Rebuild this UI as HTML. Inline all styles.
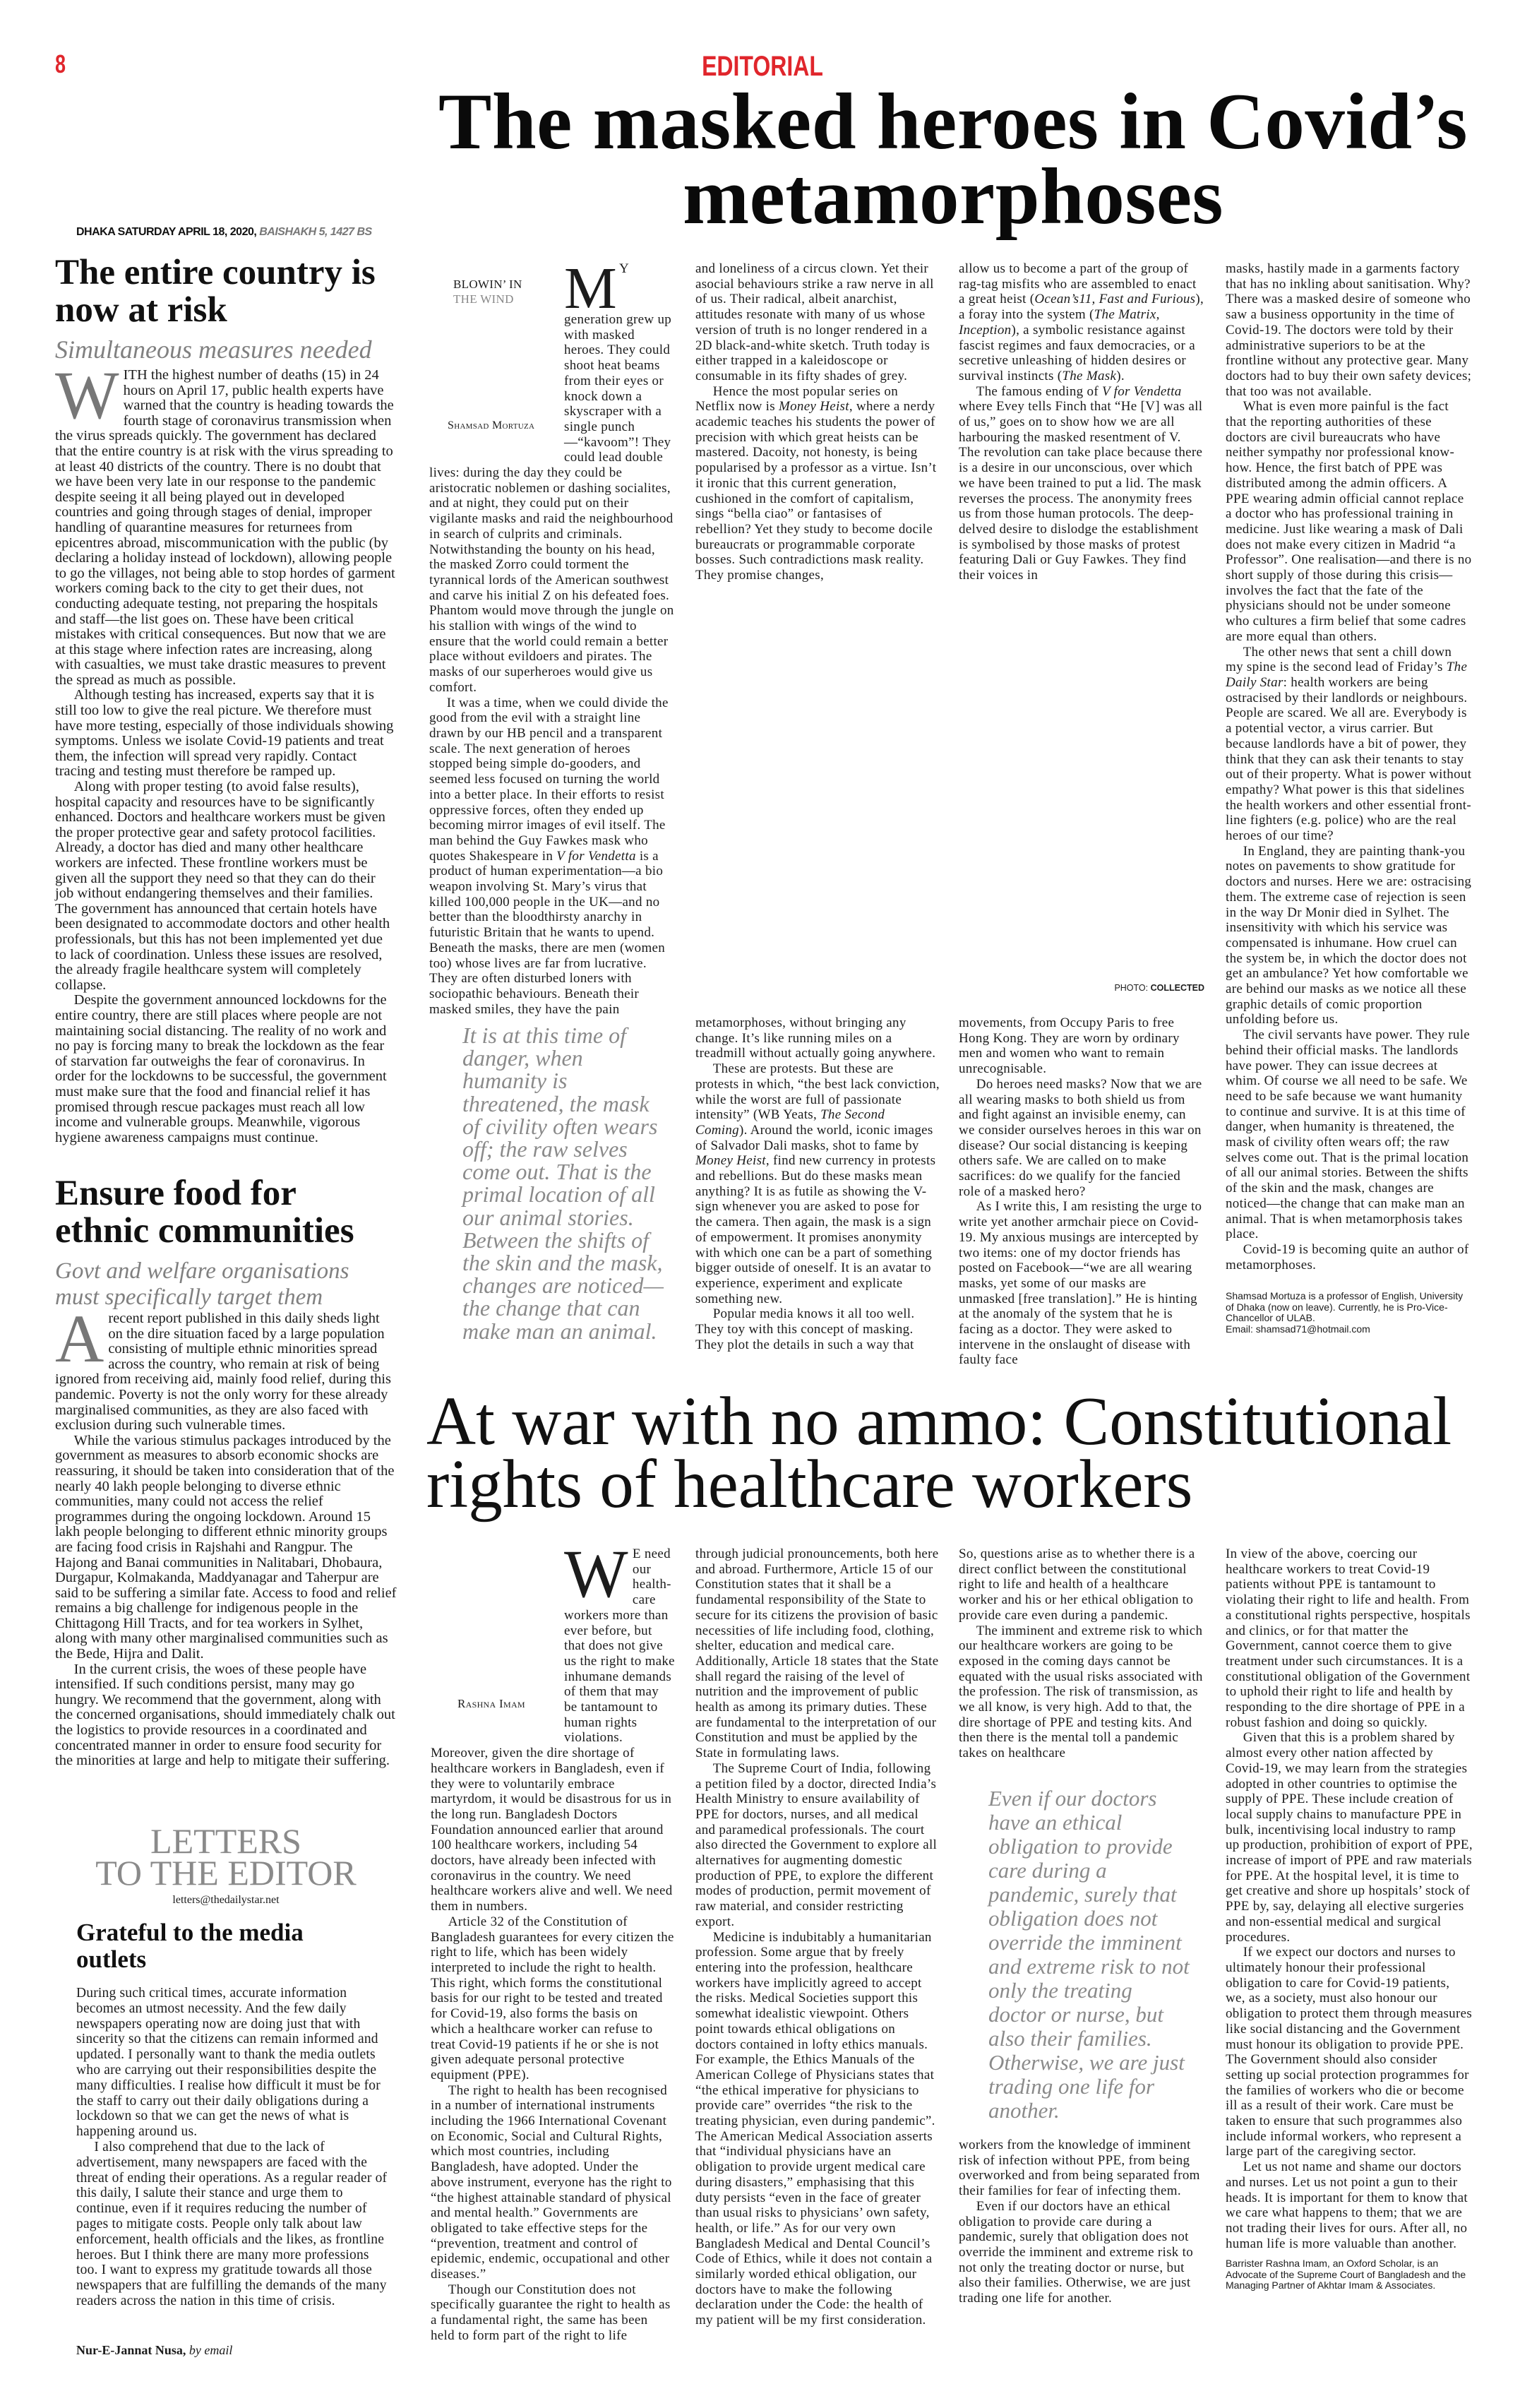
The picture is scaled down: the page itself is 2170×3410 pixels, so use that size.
<!DOCTYPE html>
<html><head><meta charset="utf-8">
<style>
html,body{margin:0;padding:0;background:#fff;}
body{width:2170px;height:3410px;position:relative;overflow:hidden;font-family:"Liberation Serif",serif;color:#1c1c1c;}
.a{position:absolute;}
.col{position:absolute;font-size:19px;line-height:21.7px;letter-spacing:.3px;}
.col p{margin:0;text-indent:1.3em;}
.col p.n{text-indent:0;}
.lc{position:absolute;left:78px;width:484px;font-size:20.5px;line-height:21.6px;}
.lc p{margin:0;text-indent:1.3em;}
.lc p.n{text-indent:0;}
.hl{font-weight:bold;font-size:51px;line-height:53px;color:#111;}
.sub{font-style:italic;color:#808080;font-size:36px;line-height:38px;}
.dc{float:left;font-size:96px;line-height:66px;margin:6px 6px 0 0;}
.pq{position:absolute;font-style:italic;color:#8a8a8a;font-size:32px;line-height:32.2px;}
.bio{font-family:"Liberation Sans",sans-serif;font-size:14px;line-height:15.5px;letter-spacing:0;}
.sc{font-variant:small-caps;}
</style></head><body>

<div class="a" style="left:78px;top:70px;font:bold 36px 'Liberation Sans',sans-serif;color:#e0262c;transform:scaleX(.75);transform-origin:left;">8</div>
<div class="a" style="left:880px;top:72px;width:400px;text-align:center;font:bold 40px 'Liberation Sans',sans-serif;color:#e0262c;transform:scaleX(.8);">EDITORIAL</div>

<div class="a" style="left:560px;top:120px;width:1580px;text-align:center;font-weight:bold;font-size:113px;line-height:106px;color:#0a0a0a;letter-spacing:.5px;">The masked heroes in Covid’s<br>metamorphoses</div>

<div class="a" style="left:108px;top:320px;font:bold 16px 'Liberation Sans',sans-serif;letter-spacing:-.5px;color:#111;">DHAKA SATURDAY APRIL 18, 2020, <i style="color:#777">BAISHAKH 5, 1427 BS</i></div>

<!-- LEFT COLUMN -->
<div class="a hl" style="left:78px;top:360px;width:520px;">The entire country is<br>now at risk</div>
<div class="a sub" style="left:78px;top:476px;">Simultaneous measures needed</div>
<div class="lc" style="top:521px;">
<p class="n"><span class="dc" style="color:#777;">W</span>ITH the highest number of deaths (15) in 24 hours on April 17, public health experts have warned that the country is heading towards the fourth stage of coronavirus transmission when the virus spreads quickly. The government has declared that the entire country is at risk with the virus spreading to at least 40 districts of the country. There is no doubt that we have been very late in our response to the pandemic despite seeing it all being played out in developed countries and going through stages of denial, improper handling of quarantine measures for returnees from epicentres abroad, miscommunication with the public (by declaring a holiday instead of lockdown), allowing people to go the villages, not being able to stop hordes of garment workers coming back to the city to get their dues, not conducting adequate testing, not preparing the hospitals and staff—the list goes on. These have been critical mistakes with critical consequences. But now that we are at this stage where infection rates are increasing, along with casualties, we must take drastic measures to prevent the spread as much as possible.</p>
<p>Although testing has increased, experts say that it is still too low to give the real picture. We therefore must have more testing, especially of those individuals showing symptoms. Unless we isolate Covid-19 patients and treat them, the infection will spread very rapidly. Contact tracing and testing must therefore be ramped up.</p>
<p>Along with proper testing (to avoid false results), hospital capacity and resources have to be significantly enhanced. Doctors and healthcare workers must be given the proper protective gear and safety protocol facilities. Already, a doctor has died and many other healthcare workers are infected. These frontline workers must be given all the support they need so that they can do their job without endangering themselves and their families. The government has announced that certain hotels have been designated to accommodate doctors and other health professionals, but this has not been implemented yet due to lack of coordination. Unless these issues are resolved, the already fragile healthcare system will completely collapse.</p>
<p>Despite the government announced lockdowns for the entire country, there are still places where people are not maintaining social distancing. The reality of no work and no pay is forcing many to break the lockdown as the fear of starvation far outweighs the fear of coronavirus. In order for the lockdowns to be successful, the government must make sure that the food and financial relief it has promised through rescue packages must reach all low income and vulnerable groups. Meanwhile, vigorous hygiene awareness campaigns must continue.</p>
</div>

<div class="a hl" style="left:78px;top:1664px;width:520px;">Ensure food for<br>ethnic communities</div>
<div class="a sub" style="left:78px;top:1782px;font-size:33px;line-height:37px;">Govt and welfare organisations<br>must specifically target them</div>
<div class="lc" style="top:1857px;">
<p class="n"><span class="dc" style="color:#777;">A</span> recent report published in this daily sheds light on the dire situation faced by a large population consisting of multiple ethnic minorities spread across the country, who remain at risk of being ignored from receiving aid, mainly food relief, during this pandemic. Poverty is not the only worry for these already marginalised communities, as they are also faced with exclusion during such vulnerable times.</p>
<p>While the various stimulus packages introduced by the government as measures to absorb economic shocks are reassuring, it should be taken into consideration that of the nearly 40 lakh people belonging to diverse ethnic communities, many could not access the relief programmes during the ongoing lockdown. Around 15 lakh people belonging to different ethnic minority groups are facing food crisis in Rajshahi and Rangpur. The Hajong and Banai communities in Nalitabari, Dhobaura, Durgapur, Kolmakanda, Maddyanagar and Taherpur are said to be suffering a similar fate. Access to food and relief remains a big challenge for indigenous people in the Chittagong Hill Tracts, and for tea workers in Sylhet, along with many other marginalised communities such as the Bede, Hijra and Dalit.</p>
<p>In the current crisis, the woes of these people have intensified. If such conditions persist, many may go hungry. We recommend that the government, along with the concerned organisations, should immediately chalk out the logistics to provide resources in a coordinated and concentrated manner in order to ensure food security for the minorities at large and help to mitigate their suffering.</p>
</div>

<div class="a" style="left:78px;top:2585px;width:484px;text-align:center;font-size:50px;line-height:45px;color:#8a8a8a;">LETTERS<br>TO THE EDITOR</div>
<div class="a" style="left:78px;top:2682px;width:484px;text-align:center;font-size:16px;">letters@thedailystar.net</div>
<div class="a" style="left:108px;top:2718px;font-weight:bold;font-size:35px;line-height:38px;color:#111;">Grateful to the media<br>outlets</div>
<div class="lc" style="top:2812px;left:108px;width:450px;font-size:19.5px;line-height:21.8px;letter-spacing:.2px;">
<p class="n">During such critical times, accurate information becomes an utmost necessity. And the few daily newspapers operating now are doing just that with sincerity so that the citizens can remain informed and updated. I personally want to thank the media outlets who are carrying out their responsibilities despite the many difficulties. I realise how difficult it must be for the staff to carry out their daily obligations during a lockdown so that we can get the news of what is happening around us.</p>
<p>I also comprehend that due to the lack of advertisement, many newspapers are faced with the threat of ending their operations. As a regular reader of this daily, I salute their stance and urge them to continue, even if it requires reducing the number of pages to mitigate costs. People only talk about law enforcement, health officials and the likes, as frontline heroes. But I think there are many more professions too. I want to express my gratitude towards all those newspapers that are fulfilling the demands of the many readers across the nation in this time of crisis.</p>
</div>
<div class="a" style="left:108px;top:3318px;font-size:18px;font-weight:bold;">Nur-E-Jannat Nusa, <i style="font-weight:normal">by email</i></div>

<!-- ARTICLE 1 -->
<div class="col" style="left:608px;top:370px;width:348px;">
<div style="float:left;width:191px;height:270px;position:relative;">
<div style="position:absolute;left:34px;top:22px;font-size:17px;line-height:21px;">BLOWIN’ IN<br><span style="color:#888">THE WIND</span></div>
<div class="sc" style="position:absolute;left:26px;top:222px;font-size:16px;">Shamsad Mortuza</div>
</div>
<p class="n"><span class="dc" style="font-size:84px;margin-right:3px;">M</span>Y generation grew up with masked heroes. They could shoot heat beams from their eyes or knock down a skyscraper with a single punch—“kavoom”! They could lead double lives: during the day they could be aristocratic noblemen or dashing socialites, and at night, they could put on their vigilante masks and raid the neighbourhood in search of culprits and criminals. Notwithstanding the bounty on his head, the masked Zorro could torment the tyrannical lords of the American southwest and carve his initial Z on his defeated foes. Phantom would move through the jungle on his stallion with wings of the wind to ensure that the world could remain a better place without evildoers and pirates. The masks of our superheroes would give us comfort.</p>
<p>It was a time, when we could divide the good from the evil with a straight line drawn by our HB pencil and a transparent scale. The next generation of heroes stopped being simple do-gooders, and seemed less focused on turning the world into a better place. In their efforts to resist oppressive forces, often they ended up becoming mirror images of evil itself. The man behind the Guy Fawkes mask who quotes Shakespeare in <i>V for Vendetta</i> is a product of human experimentation—a bio weapon involving St. Mary’s virus that killed 100,000 people in the UK—and no better than the bloodthirsty anarchy in futuristic Britain that he wants to upend. Beneath the masks, there are men (women too) whose lives are far from lucrative. They are often disturbed loners with sociopathic behaviours. Beneath their masked smiles, they have the pain</p>
</div>

<div class="col" style="left:985px;top:370px;width:346px;">
<p class="n">and loneliness of a circus clown. Yet their asocial behaviours strike a raw nerve in all of us. Their radical, albeit anarchist, attitudes resonate with many of us whose version of truth is no longer rendered in a 2D black-and-white sketch. Truth today is either trapped in a kaleidoscope or consumable in its fifty shades of grey.</p>
<p>Hence the most popular series on Netflix now is <i>Money Heist</i>, where a nerdy academic teaches his students the power of precision with which great heists can be mastered. Dacoity, not honesty, is being popularised by a professor as a virtue. Isn’t it ironic that this current generation, cushioned in the comfort of capitalism, sings “bella ciao” or fantasises of rebellion? Yet they study to become docile bureaucrats or programmable corporate bosses. Such contradictions mask reality. They promise changes,</p>
</div>

<div class="col" style="left:1358px;top:370px;width:348px;">
<p class="n">allow us to become a part of the group of rag-tag misfits who are assembled to enact a great heist (<i>Ocean’s11, Fast and Furious</i>), a foray into the system (<i>The Matrix, Inception</i>), a symbolic resistance against fascist regimes and faux democracies, or a secretive unleashing of hidden desires or survival instincts (<i>The Mask</i>).</p>
<p>The famous ending of <i>V for Vendetta</i> where Evey tells Finch that “He [V] was all of us,” goes on to show how we are all harbouring the masked resentment of V. The revolution can take place because there is a desire in our unconscious, over which we have been trained to put a lid. The mask reverses the process. The anonymity frees us from those human protocols. The deep-delved desire to dislodge the establishment is symbolised by those masks of protest featuring Dali or Guy Fawkes. They find their voices in</p>
</div>

<div class="a" style="left:1500px;top:1392px;width:206px;text-align:right;font:12.5px 'Liberation Sans',sans-serif;">PHOTO: <b>COLLECTED</b></div>

<div class="pq" style="left:655px;top:1450px;width:285px;">It is at this time of danger, when humanity is threatened, the mask of civility often wears off; the raw selves come out. That is the primal location of all our animal stories. Between the shifts of the skin and the mask, changes are noticed—the change that can make man an animal.</div>

<div class="col" style="left:985px;top:1438px;width:346px;">
<p class="n">metamorphoses, without bringing any change. It’s like running miles on a treadmill without actually going anywhere.</p>
<p>These are protests. But these are protests in which, “the best lack conviction, while the worst are full of passionate intensity” (WB Yeats, <i>The Second Coming</i>). Around the world, iconic images of Salvador Dali masks, shot to fame by <i>Money Heist</i>, find new currency in protests and rebellions. But do these masks mean anything? It is as futile as showing the V-sign whenever you are asked to pose for the camera. Then again, the mask is a sign of empowerment. It promises anonymity with which one can be a part of something bigger outside of oneself. It is an avatar to experience, experiment and explicate something new.</p>
<p>Popular media knows it all too well. They toy with this concept of masking. They plot the details in such a way that</p>
</div>

<div class="col" style="left:1358px;top:1438px;width:348px;">
<p class="n">movements, from Occupy Paris to free Hong Kong. They are worn by ordinary men and women who want to remain unrecognisable.</p>
<p>Do heroes need masks? Now that we are all wearing masks to both shield us from and fight against an invisible enemy, can we consider ourselves heroes in this war on disease? Our social distancing is keeping others safe. We are called on to make sacrifices: do we qualify for the fancied role of a masked hero?</p>
<p>As I write this, I am resisting the urge to write yet another armchair piece on Covid-19. My anxious musings are intercepted by two items: one of my doctor friends has posted on Facebook—“we are all wearing masks, yet some of our masks are unmasked [free translation].” He is hinting at the anomaly of the system that he is facing as a doctor. They were asked to intervene in the onslaught of disease with faulty face</p>
</div>

<div class="col" style="left:1736px;top:370px;width:350px;">
<p class="n">masks, hastily made in a garments factory that has no inkling about sanitisation. Why? There was a masked desire of someone who saw a business opportunity in the time of Covid-19. The doctors were told by their administrative superiors to be at the frontline without any protective gear. Many doctors had to buy their own safety devices; that too was not available.</p>
<p>What is even more painful is the fact that the reporting authorities of these doctors are civil bureaucrats who have neither sympathy nor professional know-how. Hence, the first batch of PPE was distributed among the admin officers. A PPE wearing admin official cannot replace a doctor who has professional training in medicine. Just like wearing a mask of Dali does not make every citizen in Madrid “a Professor”. One realisation—and there is no short supply of those during this crisis—involves the fact that the fate of the physicians should not be under someone who cultures a firm belief that some cadres are more equal than others.</p>
<p>The other news that sent a chill down my spine is the second lead of Friday’s <i>The Daily Star</i>: health workers are being ostracised by their landlords or neighbours. People are scared. We all are. Everybody is a potential vector, a virus carrier. But because landlords have a bit of power, they think that they can ask their tenants to stay out of their property. What is power without empathy? What power is this that sidelines the health workers and other essential front-line fighters (e.g. police) who are the real heroes of our time?</p>
<p>In England, they are painting thank-you notes on pavements to show gratitude for doctors and nurses. Here we are: ostracising them. The extreme case of rejection is seen in the way Dr Monir died in Sylhet. The insensitivity with which his service was compensated is inhumane. How cruel can the system be, in which the doctor does not get an ambulance? Yet how comfortable we are behind our masks as we notice all these graphic details of comic proportion unfolding before us.</p>
<p>The civil servants have power. They rule behind their official masks. The landlords have power. They can issue decrees at whim. Of course we all need to be safe. We need to be safe because we want humanity to continue and survive. It is at this time of danger, when humanity is threatened, the mask of civility often wears off; the raw selves come out. That is the primal location of all our animal stories. Between the shifts of the skin and the mask, changes are noticed—the change that can make man an animal. That is when metamorphosis takes place.</p>
<p>Covid-19 is becoming quite an author of metamorphoses.</p>
<div class="bio" style="margin-top:26px;">Shamsad Mortuza is a professor of English, University of Dhaka (now on leave). Currently, he is Pro-Vice-Chancellor of ULAB.<br>Email: shamsad71@hotmail.com</div>
</div>

<!-- ARTICLE 2 -->
<div class="a" style="left:604px;top:1968px;width:1560px;font-size:97px;line-height:89px;color:#111;">At war with no ammo: Constitutional<br>rights of healthcare workers</div>

<div class="col" style="left:610px;top:2190px;width:346px;">
<div style="float:left;width:189px;height:268px;position:relative;">
<div class="sc" style="position:absolute;left:38px;top:212px;font-size:17px;">Rashna Imam</div>
</div>
<p class="n"><span class="dc">W</span>E need our health-care workers more than ever before, but that does not give us the right to make inhumane demands of them that may be tantamount to human rights violations. Moreover, given the dire shortage of healthcare workers in Bangladesh, even if they were to voluntarily embrace martyrdom, it would be disastrous for us in the long run. Bangladesh Doctors Foundation announced earlier that around 100 healthcare workers, including 54 doctors, have already been infected with coronavirus in the country. We need healthcare workers alive and well. We need them in numbers.</p>
<p>Article 32 of the Constitution of Bangladesh guarantees for every citizen the right to life, which has been widely interpreted to include the right to health. This right, which forms the constitutional basis for our right to be tested and treated for Covid-19, also forms the basis on which a healthcare worker can refuse to treat Covid-19 patients if he or she is not given adequate personal protective equipment (PPE).</p>
<p>The right to health has been recognised in a number of international instruments including the 1966 International Covenant on Economic, Social and Cultural Rights, which most countries, including Bangladesh, have adopted. Under the above instrument, everyone has the right to “the highest attainable standard of physical and mental health.” Governments are obligated to take effective steps for the “prevention, treatment and control of epidemic, endemic, occupational and other diseases.”</p>
<p>Though our Constitution does not specifically guarantee the right to health as a fundamental right, the same has been held to form part of the right to life</p>
</div>

<div class="col" style="left:985px;top:2190px;width:346px;">
<p class="n">through judicial pronouncements, both here and abroad. Furthermore, Article 15 of our Constitution states that it shall be a fundamental responsibility of the State to secure for its citizens the provision of basic necessities of life including food, clothing, shelter, education and medical care. Additionally, Article 18 states that the State shall regard the raising of the level of nutrition and the improvement of public health as among its primary duties. These are fundamental to the interpretation of our Constitution and must be applied by the State in formulating laws.</p>
<p>The Supreme Court of India, following a petition filed by a doctor, directed India’s Health Ministry to ensure availability of PPE for doctors, nurses, and all medical and paramedical professionals. The court also directed the Government to explore all alternatives for augmenting domestic production of PPE, to explore the different modes of production, permit movement of raw material, and consider restricting export.</p>
<p>Medicine is indubitably a humanitarian profession. Some argue that by freely entering into the profession, healthcare workers have implicitly agreed to accept the risks. Medical Societies support this somewhat idealistic viewpoint. Others point towards ethical obligations on doctors contained in lofty ethics manuals. For example, the Ethics Manuals of the American College of Physicians states that “the ethical imperative for physicians to provide care” overrides “the risk to the treating physician, even during pandemic”. The American Medical Association asserts that “individual physicians have an obligation to provide urgent medical care during disasters,” emphasising that this duty persists “even in the face of greater than usual risks to physicians’ own safety, health, or life.” As for our very own Bangladesh Medical and Dental Council’s Code of Ethics, while it does not contain a similarly worded ethical obligation, our doctors have to make the following declaration under the Code: the health of my patient will be my first consideration.</p>
</div>

<div class="col" style="left:1358px;top:2190px;width:348px;">
<p class="n">So, questions arise as to whether there is a direct conflict between the constitutional right to life and health of a healthcare worker and his or her ethical obligation to provide care even during a pandemic.</p>
<p>The imminent and extreme risk to which our healthcare workers are going to be exposed in the coming days cannot be equated with the usual risks associated with the profession. The risk of transmission, as we all know, is very high. Add to that, the dire shortage of PPE and testing kits. And then there is the mental toll a pandemic takes on healthcare</p>
</div>

<div class="pq" style="left:1400px;top:2530px;width:285px;font-size:31px;line-height:34px;">Even if our doctors have an ethical obligation to provide care during a pandemic, surely that obligation does not override the imminent and extreme risk to not only the treating doctor or nurse, but also their families. Otherwise, we are just trading one life for another.</div>

<div class="col" style="left:1358px;top:3027px;width:348px;">
<p class="n">workers from the knowledge of imminent risk of infection without PPE, from being overworked and from being separated from their families for fear of infecting them.</p>
<p>Even if our doctors have an ethical obligation to provide care during a pandemic, surely that obligation does not override the imminent and extreme risk to not only the treating doctor or nurse, but also their families. Otherwise, we are just trading one life for another.</p>
</div>

<div class="col" style="left:1736px;top:2190px;width:350px;">
<p class="n">In view of the above, coercing our healthcare workers to treat Covid-19 patients without PPE is tantamount to violating their right to life and health. From a constitutional rights perspective, hospitals and clinics, or for that matter the Government, cannot coerce them to give treatment under such circumstances. It is a constitutional obligation of the Government to uphold their right to life and health by responding to the dire shortage of PPE in a robust fashion and doing so quickly.</p>
<p>Given that this is a problem shared by almost every other nation affected by Covid-19, we may learn from the strategies adopted in other countries to optimise the supply of PPE. These include creation of local supply chains to manufacture PPE in bulk, incentivising local industry to ramp up production, prohibition of export of PPE, increase of import of PPE and raw materials for PPE. At the hospital level, it is time to get creative and shore up hospitals’ stock of PPE by, say, delaying all elective surgeries and non-essential medical and surgical procedures.</p>
<p>If we expect our doctors and nurses to ultimately honour their professional obligation to care for Covid-19 patients, we, as a society, must also honour our obligation to protect them through measures like social distancing and the Government must honour its obligation to provide PPE. The Government should also consider setting up social protection programmes for the families of workers who die or become ill as a result of their work. Care must be taken to ensure that such programmes also include informal workers, who represent a large part of the caregiving sector.</p>
<p>Let us not name and shame our doctors and nurses. Let us not point a gun to their heads. It is important for them to know that we care what happens to them; that we are not trading their lives for ours. After all, no human life is more valuable than another.</p>
<div class="bio" style="margin-top:10px;">Barrister Rashna Imam, an Oxford Scholar, is an Advocate of the Supreme Court of Bangladesh and the Managing Partner of Akhtar Imam &amp; Associates.</div>
</div>

</body></html>
